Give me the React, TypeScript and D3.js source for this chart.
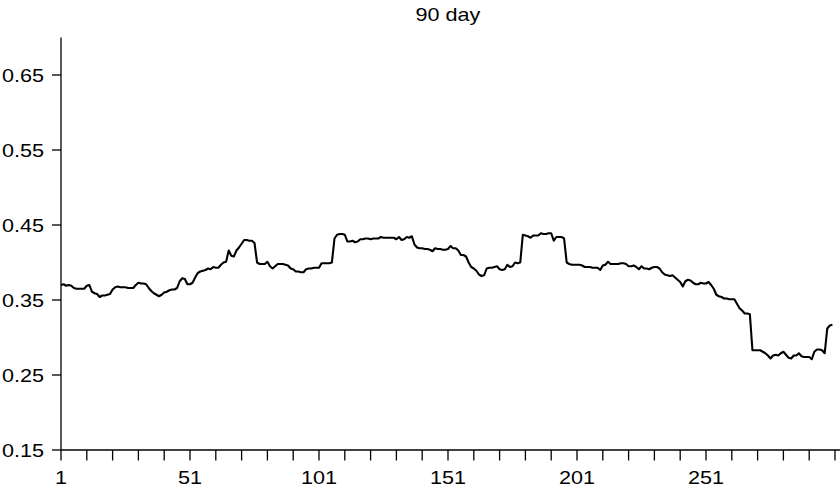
import React from "react";
import * as d3 from "d3";

// Daily values of the 90-day series, day 1 .. day 300
const values: number[] = [
  0.370, 0.371, 0.369, 0.370, 0.369, 0.366, 0.365, 0.365, 0.365, 0.365,
  0.369, 0.370, 0.361, 0.359, 0.358, 0.354, 0.356, 0.356, 0.357, 0.358,
  0.364, 0.367, 0.368, 0.367, 0.367, 0.367, 0.366, 0.366, 0.366, 0.370,
  0.373, 0.372, 0.372, 0.371, 0.366, 0.362, 0.359, 0.357, 0.355, 0.357,
  0.360, 0.361, 0.363, 0.364, 0.364, 0.366, 0.375, 0.379, 0.378, 0.371,
  0.371, 0.373, 0.380, 0.386, 0.388, 0.389, 0.390, 0.392, 0.391, 0.394,
  0.393, 0.393, 0.397, 0.400, 0.401, 0.416, 0.409, 0.408, 0.416, 0.420,
  0.425, 0.430, 0.430, 0.429, 0.429, 0.426, 0.400, 0.398, 0.398, 0.398,
  0.401, 0.395, 0.392, 0.395, 0.398, 0.398, 0.398, 0.397, 0.396, 0.392,
  0.391, 0.388, 0.388, 0.387, 0.387, 0.391, 0.392, 0.392, 0.393, 0.393,
  0.393, 0.399, 0.399, 0.399, 0.399, 0.400, 0.432, 0.437, 0.438, 0.438,
  0.437, 0.428, 0.428, 0.429, 0.427, 0.428, 0.431, 0.431, 0.432, 0.432,
  0.431, 0.432, 0.432, 0.432, 0.434, 0.433, 0.433, 0.433, 0.433, 0.433,
  0.431, 0.434, 0.430, 0.431, 0.434, 0.433, 0.435, 0.424, 0.420, 0.419,
  0.419, 0.418, 0.418, 0.417, 0.415, 0.419, 0.418, 0.418, 0.417, 0.417,
  0.418, 0.422, 0.419, 0.419, 0.416, 0.410, 0.410, 0.408, 0.400, 0.394,
  0.392, 0.389, 0.384, 0.382, 0.383, 0.392, 0.393, 0.393, 0.394, 0.395,
  0.391, 0.390, 0.391, 0.397, 0.394, 0.395, 0.400, 0.399, 0.400, 0.437,
  0.436, 0.435, 0.433, 0.436, 0.436, 0.436, 0.439, 0.438, 0.438, 0.439,
  0.439, 0.429, 0.434, 0.434, 0.434, 0.432, 0.400, 0.398, 0.397, 0.397,
  0.397, 0.397, 0.396, 0.394, 0.394, 0.394, 0.393, 0.393, 0.393, 0.390,
  0.396, 0.397, 0.401, 0.398, 0.398, 0.398, 0.398, 0.399, 0.399, 0.398,
  0.395, 0.395, 0.396, 0.394, 0.391, 0.395, 0.392, 0.392, 0.391, 0.393,
  0.394, 0.394, 0.392, 0.387, 0.384, 0.383, 0.382, 0.383, 0.380, 0.377,
  0.374, 0.368, 0.375, 0.377, 0.376, 0.373, 0.371, 0.371, 0.373, 0.372,
  0.372, 0.374, 0.370, 0.365, 0.357, 0.355, 0.354, 0.352, 0.352, 0.351,
  0.351, 0.351, 0.345, 0.339, 0.336, 0.332, 0.332, 0.331, 0.283, 0.283,
  0.283, 0.283, 0.281, 0.279, 0.276, 0.272, 0.276, 0.277, 0.276, 0.279,
  0.281, 0.277, 0.273, 0.272, 0.276, 0.276, 0.279, 0.275, 0.274, 0.274,
  0.274, 0.271, 0.281, 0.284, 0.284, 0.283, 0.279, 0.312, 0.316, 0.317,
];

const xMinorTicks: number[] = d3.range(1, 302, 10);
const xLabelTicks: number[] = [1, 51, 101, 151, 201, 251];
const yTicks: number[] = [0.15, 0.25, 0.35, 0.45, 0.55, 0.65];
const title = "90 day";

const W = 840;
const H = 488;
const FONT = "'Liberation Sans', Arial, Helvetica, sans-serif";
const FS = 18;
const STRETCH = 1.2;

export default function App() {
  const x = d3.scaleLinear().domain([1, 301]).range([61, 835]);
  const y = d3.scaleLinear().domain([0.15, 0.7]).range([450, 37.5]);

  const line = d3
    .line<number>()
    .x((_, i) => x(i + 1))
    .y((d) => y(d));

  const axisColor = "#000";

  return (
    <svg
      width={W}
      height={H}
      style={{ position: "absolute", left: 0, top: 0, background: "#fff" }}
    >
      <rect width={W} height={H} fill="#fff" />
      <text
        transform={`translate(${(x(1) + x(301)) / 2},${20.5}) scale(${STRETCH},1)`}
        textAnchor="middle"
        fontFamily={FONT}
        fontSize={FS}
        fill="#000"
      >
        {title}
      </text>

      {/* y axis */}
      <line x1={x(1)} x2={x(1)} y1={y(0.7)} y2={y(0.15)} stroke={axisColor} strokeWidth={1.3} />
      {yTicks.map((t) => (
        <g key={t}>
          <line x1={x(1) - 9} x2={x(1)} y1={y(t)} y2={y(t)} stroke={axisColor} strokeWidth={1.3} />
          <text
            transform={`translate(${44},${y(t) + 6.5}) scale(${STRETCH},1)`}
            textAnchor="end"
            fontFamily={FONT}
            fontSize={FS}
            fill="#000"
          >
            {t.toFixed(2)}
          </text>
        </g>
      ))}

      {/* x axis */}
      <line x1={x(1)} x2={W} y1={y(0.15)} y2={y(0.15)} stroke={axisColor} strokeWidth={1.3} />
      {xMinorTicks.map((t) => (
        <line key={t} x1={x(t)} x2={x(t)} y1={y(0.15)} y2={y(0.15) + 10.5} stroke={axisColor} strokeWidth={1.3} />
      ))}
      {xLabelTicks.map((t) => (
        <text
          key={t}
          transform={`translate(${x(t)},${483.5}) scale(${STRETCH},1)`}
          textAnchor="middle"
          fontFamily={FONT}
          fontSize={FS}
          fill="#000"
        >
          {t}
        </text>
      ))}

      <path d={line(values) ?? ""} fill="none" stroke="#000" strokeWidth={2.1} strokeLinejoin="round" />
    </svg>
  );
}
